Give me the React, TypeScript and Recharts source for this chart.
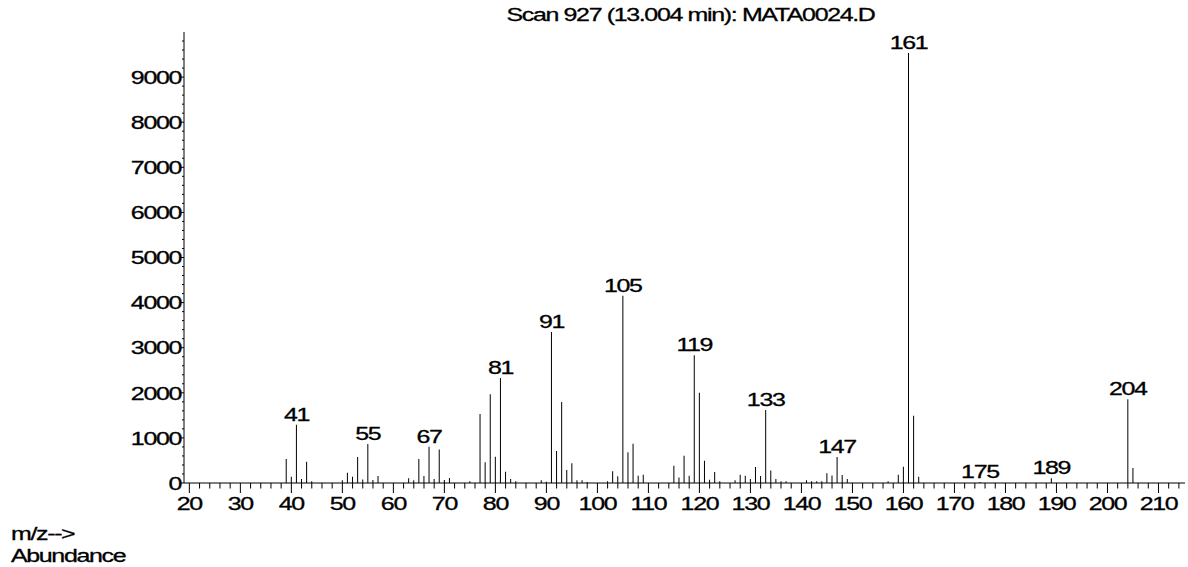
import { BarChart, Bar, XAxis, YAxis, LabelList } from 'recharts'

// m/z values and abundances
const mz = [
  39, 40, 41, 42, 43, 44, 50, 51, 52, 53, 54, 55, 56, 57, 63, 64, 65, 66, 67, 68, 69, 70, 71, 75,
  77, 78, 79, 80, 81, 82, 83, 84, 89, 90, 91, 92, 93, 94, 95, 96, 97, 98, 102, 103, 104, 105, 106,
  107, 108, 109, 115, 116, 117, 118, 119, 120, 121, 122, 123, 124, 127, 128, 129, 130, 131, 132,
  133, 134, 135, 136, 137, 141, 142, 143, 144, 145, 146, 147, 148, 149, 157, 159, 160, 161, 162,
  163, 175, 189, 204, 205,
]
const abundance = [
  532, 140, 1290, 88, 473, 40, 59, 225, 140, 576, 80, 865, 66, 155, 108, 59, 532, 155, 806, 88, 742, 66, 110, 40,
  1530, 458, 1966, 580, 2330, 248, 88, 40, 62, 30, 3348, 710, 1796, 288, 440, 59, 59, 20, 40, 262, 152, 4150, 684,
  868, 162, 181, 384, 120, 606, 163, 2831, 2002, 492, 70, 244, 40, 63, 181, 160, 88, 355, 155,
  1618, 277, 88, 40, 40, 59, 40, 40, 40, 214, 165, 576, 177, 88, 40, 181, 360, 9534, 1493,
  137, 20, 104, 1856, 333,
]
const labeledPeaks = [41, 55, 67, 81, 91, 105, 119, 133, 147, 161, 175, 189, 204]

const xTicks = Array.from({ length: 98 }, (_, i) => 20 + i * 2)
const yTicks = Array.from({ length: 50 }, (_, i) => i * 200)

const data = mz.map((m, i) => ({ mz: m, abundance: abundance[i] }))

const FONT = 'Liberation Sans, Arial, sans-serif'

function Txt({ x, y, anchor = 'start', children }: any) {
  return (
    <text
      transform={`translate(${x},${y}) scale(1.35,1)`}
      textAnchor={anchor}
      fontSize={18.5}
      fontFamily={FONT}
      letterSpacing={-1}
      fill="#000"
      stroke="#000"
      strokeWidth={0.3}
    >
      {children}
    </text>
  )
}

function XTick(p: any) {
  const v = p.payload.value
  const major = v % 10 === 0
  return (
    <g>
      <line x1={p.x} x2={p.x} y1={p.y} y2={p.y + (major ? 10 : 5.5)} stroke="#000" />
      {major && <Txt x={p.x} y={p.y + 27} anchor="middle">{v}</Txt>}
    </g>
  )
}

function YTick(p: any) {
  const v = p.payload.value
  const major = v % 1000 === 0
  return (
    <g>
      <line x1={p.x} x2={p.x - (major ? 4 : 2)} y1={p.y} y2={p.y} stroke="#000" />
      {major && <Txt x={p.x - 3} y={p.y + 6.7} anchor="end">{v}</Txt>}
    </g>
  )
}

function PeakLabel(p: any) {
  if (!labeledPeaks.includes(p.value)) return null
  return <Txt x={p.x + p.width / 2} y={p.y - 4} anchor="middle">{p.value}</Txt>
}

export default function App() {
  return (
    <div style={{ position: 'absolute', left: 0, top: 0, width: 1188, height: 567, background: '#fff' }}>
      <BarChart width={1188} height={567} data={data} margin={{ top: 32, right: 3, bottom: 54, left: 124 }}>
        <XAxis
          dataKey="mz"
          type="number"
          domain={[18.95, 215.2]}
          allowDataOverflow
          ticks={xTicks}
          interval={0}
          height={30}
          tickSize={0}
          tickMargin={0}
          tickLine={false}
          axisLine={{ stroke: '#000' }}
          tick={<XTick />}
        />
        <YAxis
          type="number"
          domain={[0, 10000]}
          allowDataOverflow
          ticks={yTicks}
          interval={0}
          width={60}
          tickSize={0}
          tickMargin={0}
          tickLine={false}
          axisLine={{ stroke: '#000' }}
          tick={<YTick />}
        />
        <Bar dataKey="abundance" barSize={1} fill="#000" isAnimationActive={false}>
          <LabelList dataKey="mz" content={<PeakLabel />} />
        </Bar>
      </BarChart>
      <svg width={1188} height={567} style={{ position: 'absolute', left: 0, top: 0, pointerEvents: 'none' }}>
        <Txt x={690.5} y={21} anchor="middle">Scan 927 (13.004 min): MATA0024.D</Txt>
        <Txt x={11} y={540}>m/z--&gt;</Txt>
        <Txt x={11} y={562}>Abundance</Txt>
      </svg>
    </div>
  )
}
